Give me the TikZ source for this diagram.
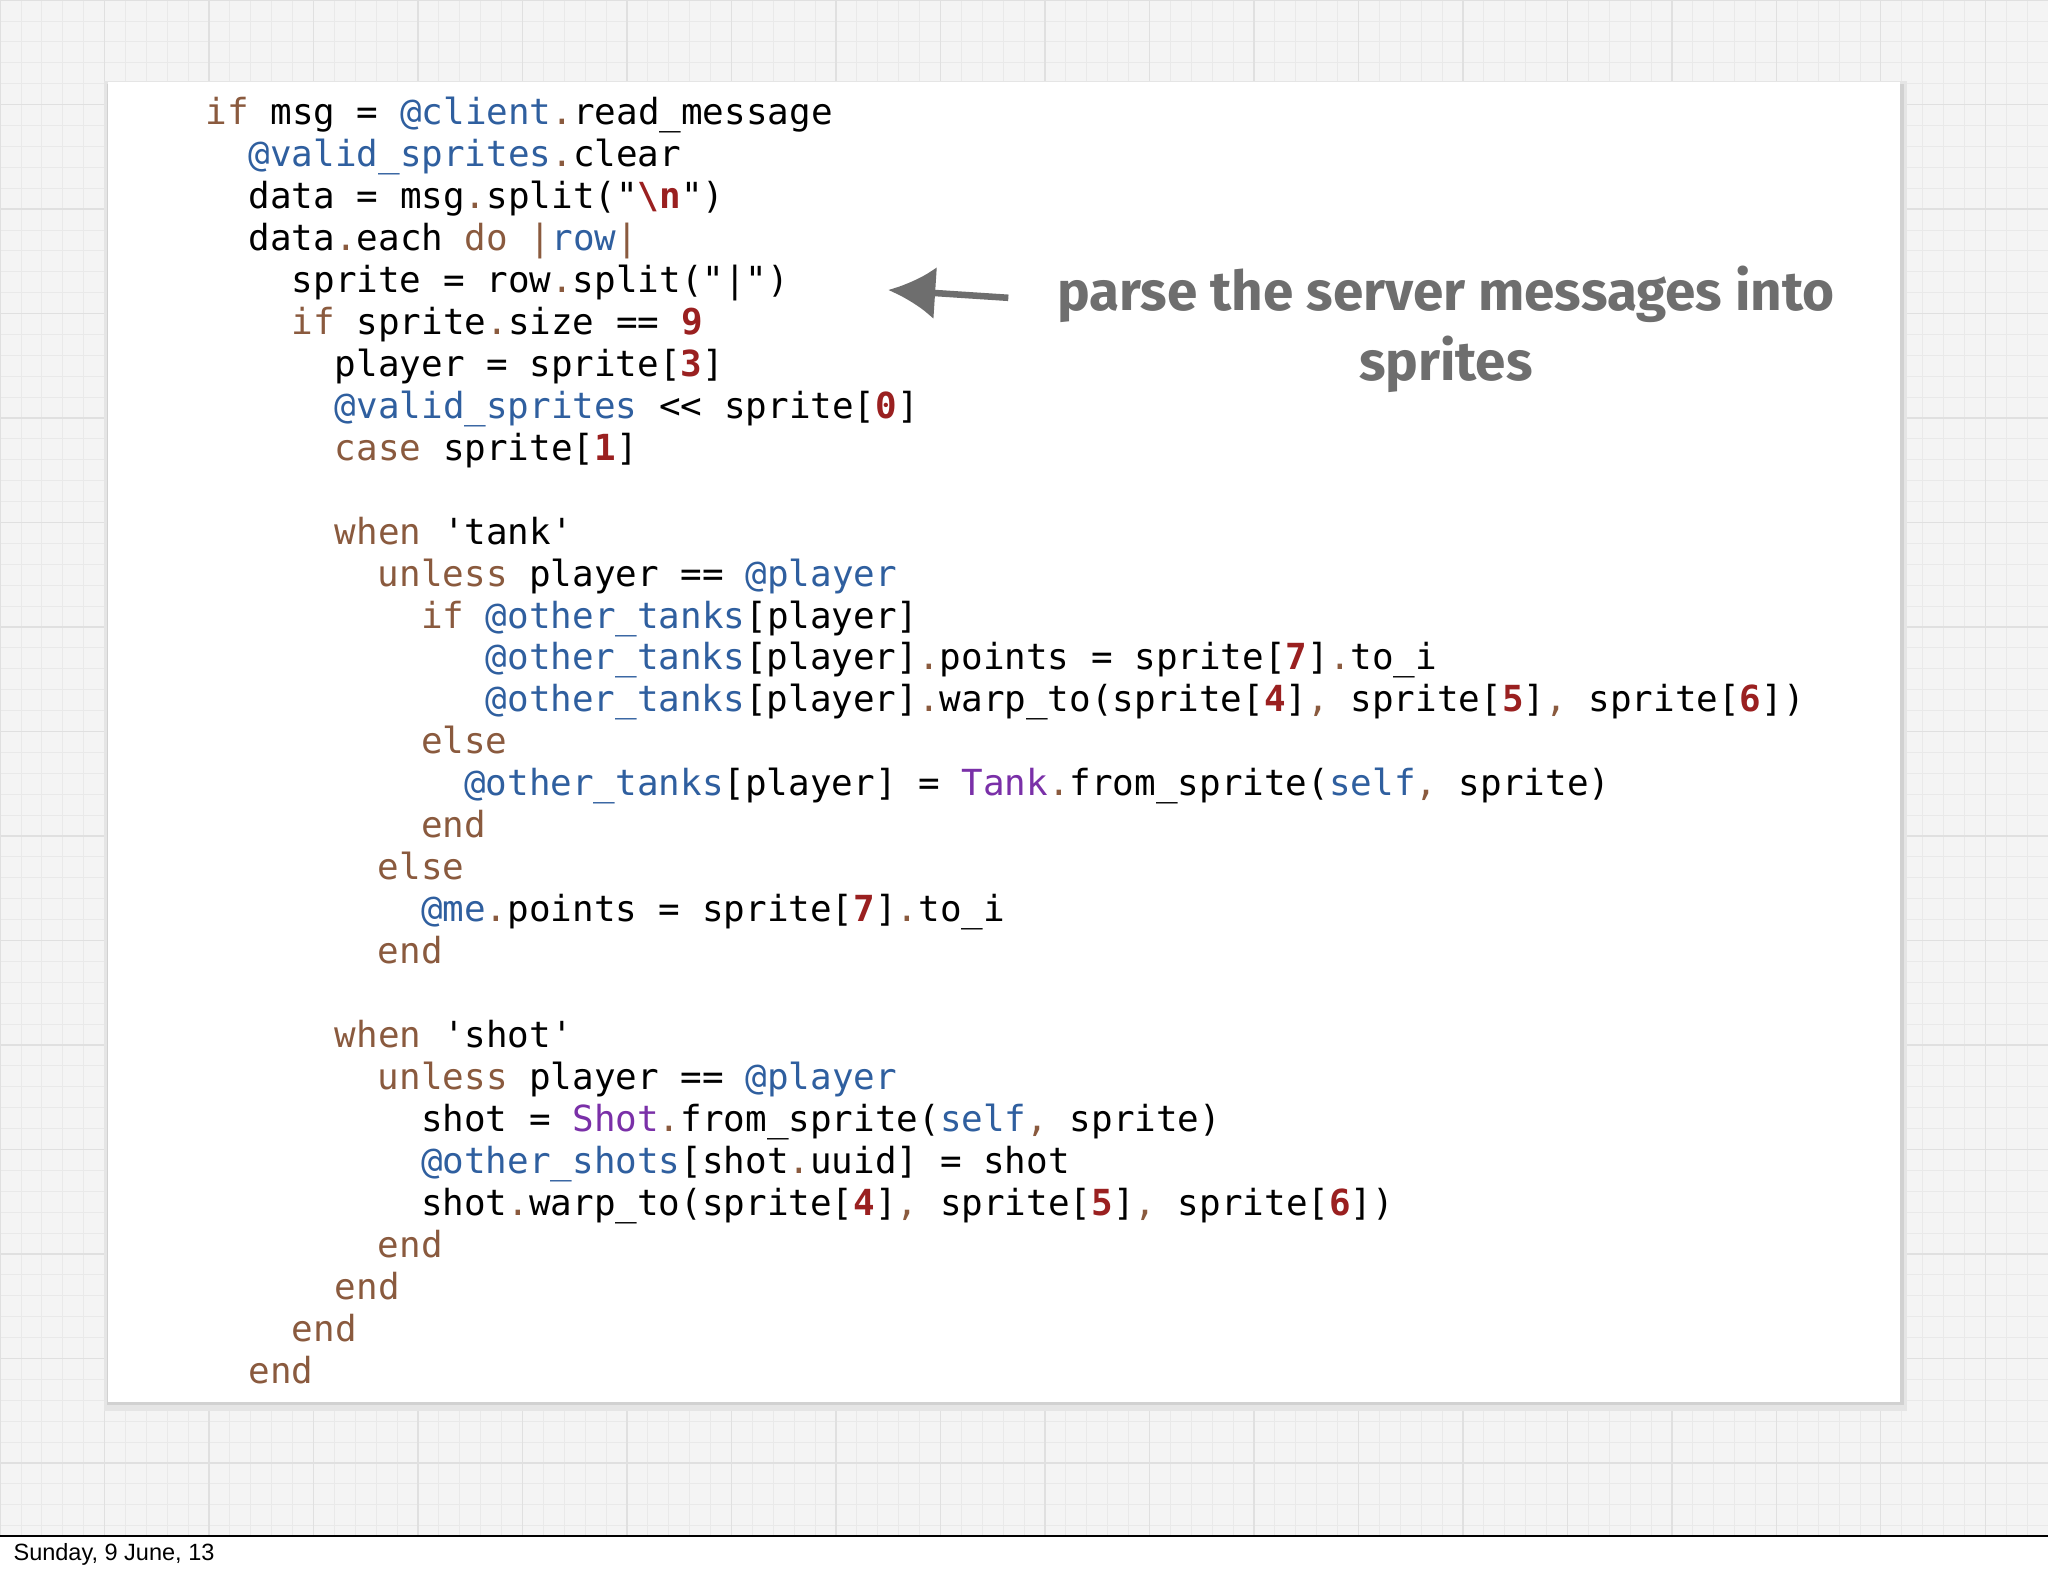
\documentclass[tikz,border=0pt]{standalone}
\usepackage{fontspec}
\setmonofont{DejaVu Sans Mono}
\newfontfamily\notefont{Fira Sans}
\newfontfamily\datefont{Liberation Sans}
\usetikzlibrary{arrows.meta}
\definecolor{kwc}{HTML}{8A5A3E}
\definecolor{ivc}{HTML}{2F5F9F}
\definecolor{nmc}{HTML}{9A2020}
\definecolor{cnc}{HTML}{7A30A8}
\definecolor{notec}{HTML}{6E6E6E}
\newcommand{\kw}[1]{\textcolor{kwc}{#1}}
\newcommand{\iv}[1]{\textcolor{ivc}{#1}}
\newcommand{\nm}[1]{\textcolor{nmc}{\bfseries #1}}
\newcommand{\cn}[1]{\textcolor{cnc}{#1}}
\newcommand{\pd}{\textcolor{kwc}{.}}
\newcommand{\pc}{\textcolor{kwc}{,}}
\tikzset{code/.style={anchor=base west,inner sep=0pt,font=\ttfamily\fontsize{13.75}{16}\selectfont},
 note/.style={font=\notefont\bfseries\fontsize{21}{27}\selectfont,text=notec,align=center}}
\begin{document}
\begin{tikzpicture}[x=0.5pt,y=-0.5pt]
\useasboundingbox (0,0) rectangle (1568,1207);
\fill[white] (0,0) rectangle (1568,1207);
\fill[gray!9] (0,0) rectangle (1568,1176);
\draw[gray!17,line width=0.3pt] (0,0) grid[step=8pt] (1568,1176);
\draw[gray!24,line width=0.5pt] (0,0) grid[step=40pt] (1568,1176);
\draw[black,line width=0.6pt] (0,1176) -- (1568,1176);
\node[anchor=west,inner sep=0pt,font=\datefont\fontsize{9}{10}\selectfont] (date) at (10,1190) {Sunday, 9 June, 13};
\fill[black!10] (80,62) rectangle (1460,1080);
\fill[black!18] (82,64) rectangle (1458,1076);
\fill[white] (83,63) rectangle (1455,1073);
\def\cw{16.5}
\def\ly#1{95+32.15*#1}
\node[code] (l0) at (157+0*\cw,{\ly{0}}) {\kw{if} msg = \iv{@client}\pd read\_message};
\node[code] (l1) at (157+2*\cw,{\ly{1}}) {\iv{@valid\_sprites}\pd clear};
\node[code] (l2) at (157+2*\cw,{\ly{2}}) {data = msg\pd split("\nm{\textbackslash n}")};
\node[code] (l3) at (157+2*\cw,{\ly{3}}) {data\pd each \kw{do} \kw{|}\iv{row}\kw{|}};
\node[code] (l4) at (157+4*\cw,{\ly{4}}) {sprite = row\pd split("|")};
\node[code] (l5) at (157+4*\cw,{\ly{5}}) {\kw{if} sprite\pd size == \nm{9}};
\node[code] (l6) at (157+6*\cw,{\ly{6}}) {player = sprite[\nm{3}]};
\node[code] (l7) at (157+6*\cw,{\ly{7}}) {\iv{@valid\_sprites} << sprite[\nm{0}]};
\node[code] (l8) at (157+6*\cw,{\ly{8}}) {\kw{case} sprite[\nm{1}]};
\node[code] (l10) at (157+6*\cw,{\ly{10}}) {\kw{when} 'tank'};
\node[code] (l11) at (157+8*\cw,{\ly{11}}) {\kw{unless} player == \iv{@player}};
\node[code] (l12) at (157+10*\cw,{\ly{12}}) {\kw{if} \iv{@other\_tanks}[player]};
\node[code] (l13) at (157+13*\cw,{\ly{13}}) {\iv{@other\_tanks}[player]\pd points = sprite[\nm{7}]\pd to\_i};
\node[code] (l14) at (157+13*\cw,{\ly{14}}) {\iv{@other\_tanks}[player]\pd warp\_to(sprite[\nm{4}]\pc{} sprite[\nm{5}]\pc{} sprite[\nm{6}])};
\node[code] (l15) at (157+10*\cw,{\ly{15}}) {\kw{else}};
\node[code] (l16) at (157+12*\cw,{\ly{16}}) {\iv{@other\_tanks}[player] = \cn{Tank}\pd from\_sprite(\iv{self}\pc{} sprite)};
\node[code] (l17) at (157+10*\cw,{\ly{17}}) {\kw{end}};
\node[code] (l18) at (157+8*\cw,{\ly{18}}) {\kw{else}};
\node[code] (l19) at (157+10*\cw,{\ly{19}}) {\iv{@me}\pd points = sprite[\nm{7}]\pd to\_i};
\node[code] (l20) at (157+8*\cw,{\ly{20}}) {\kw{end}};
\node[code] (l22) at (157+6*\cw,{\ly{22}}) {\kw{when} 'shot'};
\node[code] (l23) at (157+8*\cw,{\ly{23}}) {\kw{unless} player == \iv{@player}};
\node[code] (l24) at (157+10*\cw,{\ly{24}}) {shot = \cn{Shot}\pd from\_sprite(\iv{self}\pc{} sprite)};
\node[code] (l25) at (157+10*\cw,{\ly{25}}) {\iv{@other\_shots}[shot\pd uuid] = shot};
\node[code] (l26) at (157+10*\cw,{\ly{26}}) {shot\pd warp\_to(sprite[\nm{4}]\pc{} sprite[\nm{5}]\pc{} sprite[\nm{6}])};
\node[code] (l27) at (157+8*\cw,{\ly{27}}) {\kw{end}};
\node[code] (l28) at (157+6*\cw,{\ly{28}}) {\kw{end}};
\node[code] (l29) at (157+4*\cw,{\ly{29}}) {\kw{end}};
\node[code] (l30) at (157+2*\cw,{\ly{30}}) {\kw{end}};
\node[note] (note) at (1107,252) {parse the server messages into\\sprites};
\coordinate (ae) at (680,222);
\draw[notec,line width=2.5pt,-{Latex[length=18pt,width=20pt]}] (772,228) -- (ae);
\end{tikzpicture}
\end{document}
